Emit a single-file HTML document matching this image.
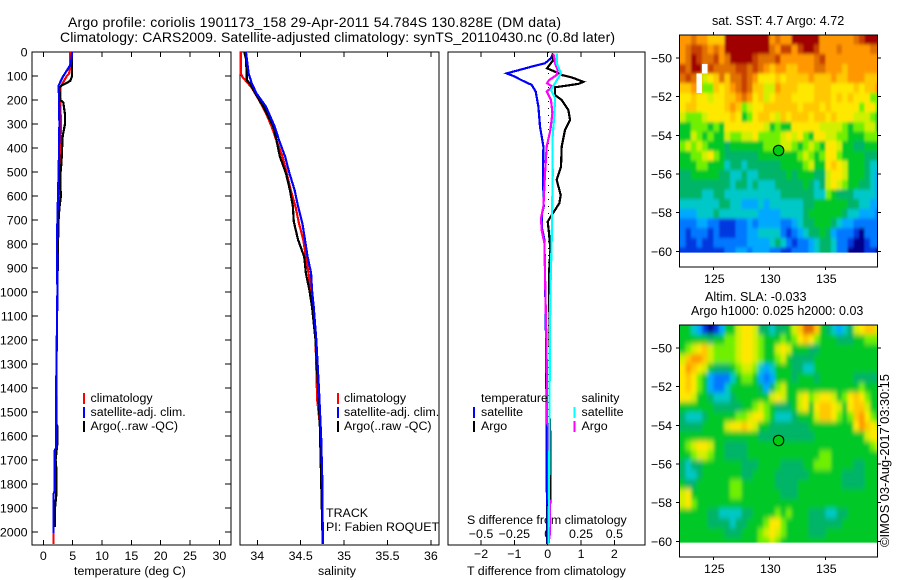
<!DOCTYPE html>
<html>
<head>
<meta charset="utf-8">
<title>Argo profile</title>
<style>
html,body{margin:0;padding:0;background:#fff;}
svg{display:block;}
text{font-family:"Liberation Sans",sans-serif;font-size:12.42px;fill:#000;}
</style>
</head>
<body>
<svg id="chart" width="900" height="580" viewBox="0 0 900 580" xmlns="http://www.w3.org/2000/svg">
<defs>
<filter id="sst-smooth" filterUnits="userSpaceOnUse" x="650" y="10" width="250" height="280"><feGaussianBlur stdDeviation="1 1.6"/></filter>
<filter id="sla-smooth" filterUnits="userSpaceOnUse" x="650" y="300" width="250" height="280"><feGaussianBlur stdDeviation="1.6 2.6"/></filter>
</defs>
<text x="68" y="27" style="font-size:14px" textLength="493">Argo profile: coriolis 1901173_158 29-Apr-2011 54.784S 130.828E (DM data)</text>
<text x="60" y="42" style="font-size:14px" textLength="555">Climatology: CARS2009. Satellite-adjusted climatology: synTS_20110430.nc (0.8d later)</text>

<text x="74" y="575">temperature (deg C)</text>
<text x="318" y="575">salinity</text>
<text x="467" y="575">T difference from climatology</text>
<text x="467" y="524">S difference from climatology</text>

<text x="326" y="517">TRACK</text>
<text x="326" y="531">PI: Fabien ROQUET</text>

<text x="712" y="25" style="font-size:12.6px">sat. SST: 4.7 Argo: 4.72</text>
<text x="705" y="301" style="font-size:12.6px">Altim. SLA: -0.033</text>
<text x="691" y="315" style="font-size:12.5px">Argo h1000: 0.025 h2000: 0.03</text>
<text transform="translate(889,547) rotate(-90)" style="font-size:13px" textLength="173">©IMOS 03-Aug-2017 03:30:15</text>
</svg>
<script>
// ---------- axis tick values ----------
const depthTicks = [0,100,200,300,400,500,600,700,800,900,1000,1100,1200,1300,1400,1500,1600,1700,1800,1900,2000];
const tempTicks = [0,5,10,15,20,25,30];
const salTicks = [34,34.5,35,35.5,36];
const tDiffTicks = [-2,-1,0,1,2];
const sDiffTicks = [-0.5,-0.25,0,0.25,0.5];
const lonTicks = [125,130,135];
const latTicks = [-50,-52,-54,-56,-58,-60];
const argoLon = 130.828;
const argoLat = -54.784;

// ---------- temperature profiles ----------
const climTempDepth = [0,60,90,100,130,145,200,300,400,500,600,800,1000,1400,1650,1660,1830,1840,2050];
const climTemp = [4.6,4.6,4.4,4.0,3.3,2.95,2.9,3.0,2.9,2.8,2.7,2.5,2.4,2.2,2.15,1.95,1.95,1.75,1.75];
const satTempDepth = [0,50,70,100,140,200,300,400,500,600,700,800,1000,1400,1650,1660,1830,1840,2005];
const satTemp = [4.9,4.7,4.2,3.4,2.6,2.7,2.75,2.7,2.6,2.5,2.4,2.35,2.4,2.2,2.15,1.95,1.95,1.75,1.75];
const argoTempDepth = [0,100,120,130,140,150,200,210,260,300,350,400,460,500,550,600,650,700,800,1000,1400,1550,1560,1630,1700,1730,1850,1900,1980];
const argoTemp = [4.9,4.9,4.6,3.9,3.1,2.75,2.9,3.4,3.7,3.7,3.3,3.2,3.1,2.95,2.9,3.0,2.75,2.6,2.5,2.4,2.2,2.2,2.4,2.4,2.1,2.2,2.2,2.0,1.95];

// ---------- salinity profiles ----------
const climSalDepth = [0,89,104,146,200,255,311,367,436,505,575,644,714,783,853,922,992,1061,1200,1450,1550,2050];
const climSal = [33.81,33.81,33.83,33.93,34.02,34.10,34.165,34.22,34.29,34.34,34.385,34.44,34.48,34.53,34.56,34.59,34.62,34.64,34.67,34.69,34.72,34.755];
const satSalDepth = [0,89,130,172,228,311,367,436,505,575,644,714,783,853,922,992,1061,1200,1400,1600,1800,2050];
const satSal = [33.87,33.90,33.935,33.99,34.10,34.20,34.25,34.32,34.37,34.43,34.47,34.52,34.55,34.58,34.62,34.63,34.65,34.68,34.71,34.735,34.75,34.755];
const argoSalDepth = [0,28,118,132,180,228,311,367,436,505,575,644,707,783,853,922,992,1061,1200,1400,1550,2000];
const argoSal = [33.85,33.87,33.88,33.916,33.99,34.07,34.185,34.22,34.26,34.33,34.375,34.41,34.42,34.47,34.54,34.56,34.60,34.63,34.67,34.70,34.72,34.75];

// ---------- difference profiles ----------
const satTDiffDepth = [6,26,47,61,89,100,119,137,165,228,311,394,506,644,679,728,783,922,1200,1600,2050];
const satTDiff = [0.17,0.10,-0.08,-0.48,-1.23,-1.03,-0.76,-0.48,-0.36,-0.28,-0.23,-0.13,-0.14,-0.12,-0.18,-0.18,-0.10,-0.08,-0.05,-0.03,-0.02];
const argoTDiffDepth = [6,33,68,85,96,106,124,133,147,179,200,242,283,325,394,478,533,596,630,679,707,755,825,922,1100,1500,1582,1880,1890,2050];
const argoTDiff = [0.15,0.17,-0.02,0.27,0.42,0.72,1.07,0.92,0.22,0.22,0.42,0.62,0.67,0.52,0.42,0.40,0.27,0.39,0.35,0.12,0,0.04,0.08,0.04,0.05,0.05,0.075,0.075,0,0];
const satSDiffDepth = [6,47,89,130,158,193,255,367,506,783,992,1300,1500,1700,2050];
const satSDiff = [0.0675,0.0675,0.10,0.055,0.025,0.055,0.05,0.035,0.0375,0.03,0.02,0.015,0.014,0.012,0.006];
const argoSDiffDepth = [6,47,75,96,117,130,144,165,200,255,325,394,506,644,693,742,797,922,1200,1350,1546,1560,1860,1870,2000,2050];
const argoSDiff = [0.0425,0.055,0.075,0.0675,0.01,-0.005,0.035,-0.0075,0.025,0.035,0.02,-0.0075,-0.02,-0.0325,-0.05,-0.045,-0.025,-0.02,-0.01,-0.006,-0.006,0.006,0.006,0.018,0.018,0.006];

// ---------- gridded maps: one character per 0.5 degree cell, "." = missing ----------
const colourLevels = "0123456789abcde";
const colourValues = ["#00008c","#0038e0","#0078ff","#00a8ff","#00c8c8","#00b468","#00c828","#70f000","#d0f000","#ffe800","#ffc800","#ff9800","#e07000","#c84000","#a00000"];
const sstRows = [
"bbcbbaaaeeeeeeeebcbbeeeeebbbbbbcdeee",
"bcddcbcbeeeeeeeecbddbdeedbbbcbbbbbcc",
"bcedccdbceeeedcccdbbbbbbcdbbbbbbbbbb",
"dcee.dccccddcdcbabbaabbbccbbbabbbbbb",
"cdc.89acaccdcb999a9aaaabaaabaabbbaaa",
"aab.77a9abcdcaa88baaa999aaa9999a9aab",
"99a99899aabcb9a89aaa9999aaa9a9a99977",
"9aa99999aba7899aaaaaa9aaa9a999997997",
"877789999a9679aa98a9aaa9aa9a99988876",
"6677767699999998"+"67669999988887677886",
"66876766"+"87788977"+"77898976998877666777",
"78787666"+"56666667"+"77887678769986655666",
"66778976"+"55555566"+"66666787679976666555",
"66677666"+"45545555"+"55666678669a98666544",
"55666665"+"54454455"+"55565666558998666543",
"55555555"+"54554544"+"4555556545"+"8987665543",
"55554455"+"44444444"+"4455555544"+"7655544443",
"44444445"+"54433343"+"4444445566"+"6666554433",
"33344454"+"44444433"+"3344445666"+"6665443332",
"22233221"+"11223233"+"3322345566"+"6543322222",
"21222121"+"11223344"+"4421234556"+"5322210222",
"21121122"+"22223333"+"4542122345"+"5422100122",
"11111111"+"22332333"+"2211222345"+"5422000110"
];
const slaRows = [
"6643101366"+"8998"+"55455"+"6"+"8acca"+"6"+"54345"+"89aa8",
"6666656677"+"8998"+"766676"+"79a97"+"66655566777",
"6789a87777"+"8998"+"766898"+"66655"+"66666666666",
"8abba87777"+"8998"+"766786"+"55556"+"66666666666",
"9ba9865556"+"7887"+"434666"+"55446"+"66666666666",
"9a97632224"+"6776"+"323666"+"56665"+"66666655555",
"9a97632246"+"6666"+"535786"+"66666"+"66666667666",
"9986654445"+"666666"+"8986"+"68978998"+"67"+"9a97"+"66",
"6666665555"+"5667"+"87"+"6555"+"68969aa986"+"9aa866",
"54445"+"66666"+"77899"+"7"+"6444"+"5666"+"8aa976"+"7ab976",
"55556"+"666"+"899a98"+"66"+"5555555"+"6"+"666666"+"69ba98",
"6666666666"+"6666555555"+"5555666666666899",
"6789986655"+"5566666666"+"6666666666666678",
"6678876655"+"5566666666"+"6666677666666666",
"5455666666"+"6555666655"+"5566777666655666",
"5445666666"+"6556666555"+"5556666665555666",
"6556666667"+"7666666555"+"5666666665555666",
"8966666667"+"7666666655"+"5666666666666666",
"8976666666"+"6666666666"+"6666666666666666",
"6666655444"+"4556666767"+"6665554455666666",
"6666655554"+"5566679976"+"6665555556666666",
"6666666655"+"5666789876"+"6665556666666666",
"6666666666"+"6666778766"+"6666666666666666"
];

// ---------- helpers ----------
const svg = document.getElementById('chart');
const NS = 'http://www.w3.org/2000/svg';
function add(parent, tag, attrs){
  const el = document.createElementNS(NS, tag);
  for (const k in attrs) el.setAttribute(k, attrs[k]);
  parent.appendChild(el);
  return el;
}
function label(parent, txt, x, y, anchor){
  const t = add(parent, 'text', {x:x, y:y, 'text-anchor':anchor||'start'});
  t.textContent = txt;
  
  
  return t;
}
function fmt(v){ return String(v).replace('-', '\u2212'); }

// axis functions
const depthY = d => 52 + 0.24 * d;
const tempX = v => 43.3 + 5.87 * v;
const salX = v => 257.3 + 86.8 * (v - 34);
const tDiffX = v => 547.7 + 33.33 * v;
const sDiffX = v => 547.7 + 133.3 * v;
const lonX = v => 713.3 + 11.2 * (v - 125);
const sstLatY = v => 58 + 19.33 * (-50 - v);
const slaLatY = v => 348 + 19.33 * (-50 - v);

function frame(name, l, t, r, b){
  const g = add(svg, 'g', {});
  
  
  const box = add(g, 'rect', {x:l, y:t, width:r-l, height:b-t, fill:'none', stroke:'#000', 'stroke-width':1.2, 'shape-rendering':'crispEdges'});
  
  
  return g;
}
function tick(g, x1, y1, x2, y2){
  const l = add(g, 'line', {x1:x1, y1:y1, x2:x2, y2:y2, stroke:'#000', 'stroke-width':1, 'shape-rendering':'crispEdges'});
  
  
}
function xTicks(g, vals, fx, t, b){
  vals.forEach(v => {
    const x = fx(v);
    tick(g, x, t, x, t + 5);
    tick(g, x, b, x, b - 5);
  });
}
function profile(g, name, xs, ds, fx, colour){
  const pts = ds.map((d, i) => fx(xs[i]).toFixed(1) + ',' + depthY(d).toFixed(1)).join(' ');
  const p = add(g, 'polyline', {points:pts, fill:'none', stroke:colour, 'stroke-width':2.2, 'shape-rendering':'crispEdges'});
  
  
}
function legendItem(g, name, x, y1, y2, colour){
  const r = add(g, 'rect', {x:x, y:y1, width:2, height:y2-y1, fill:colour});
  
  
}
function legendText(g, txt, x, y){
  const t = add(g, 'text', {x:x, y:y});
  t.textContent = txt;
  
  
}
function threeLegend(g, mx, tx){
  legendItem(g, 'legend-climatology-key', mx, 393, 404, '#f00');
  legendItem(g, 'legend-satellite-key', mx, 407, 418, '#00f');
  legendItem(g, 'legend-argo-key', mx, 421, 432, '#000');
  legendText(g, 'climatology', tx, 402);
  legendText(g, 'satellite-adj. clim.', tx, 416);
  legendText(g, 'Argo(..raw -QC)', tx, 430);
}

const PT = 52, PB = 545;

// ---------- temperature panel ----------
const p1 = frame('temperature-panel', 32, PT, 231, PB);
xTicks(p1, tempTicks, tempX, PT, PB);
tempTicks.forEach(v => label(p1, fmt(v), tempX(v), 560, 'middle'));
depthTicks.forEach(d => {
  const y = depthY(d);
  tick(p1, 32, y, 38, y);
  tick(p1, 231, y, 225, y);
  label(p1, d, 27.5, y + 4.5, 'end');
});
profile(p1, 'climatology-temperature-line', climTemp, climTempDepth, tempX, '#f00');
profile(p1, 'argo-temperature-line', argoTemp, argoTempDepth, tempX, '#000');
profile(p1, 'satellite-temperature-line', satTemp, satTempDepth, tempX, '#00f');
threeLegend(p1, 83, 90.5);

// ---------- salinity panel ----------
const p2 = frame('salinity-panel', 240, PT, 439, PB);
xTicks(p2, salTicks, salX, PT, PB);
salTicks.forEach(v => label(p2, fmt(v), salX(v), 560, 'middle'));
profile(p2, 'climatology-salinity-line', climSal, climSalDepth, salX, '#f00');
profile(p2, 'argo-salinity-line', argoSal, argoSalDepth, salX, '#000');
profile(p2, 'satellite-salinity-line', satSal, satSalDepth, salX, '#00f');
threeLegend(p2, 337, 344);

// ---------- difference panel ----------
const p3 = frame('difference-panel', 448, PT, 645, PB);
xTicks(p3, tDiffTicks, tDiffX, PT, PB);
tDiffTicks.forEach(v => label(p3, fmt(v), tDiffX(v), 558, 'middle'));
sDiffTicks.forEach(v => label(p3, fmt(v), sDiffX(v), 538, 'middle'));
const zero = add(p3, 'line', {x1:tDiffX(0)+1, y1:PT, x2:tDiffX(0)+1, y2:PB, stroke:'#000', 'stroke-width':1, 'stroke-dasharray':'1 6', 'shape-rendering':'crispEdges'});


profile(p3, 'satellite-temperature-difference-line', satTDiff, satTDiffDepth, tDiffX, '#00f');
profile(p3, 'argo-temperature-difference-line', argoTDiff, argoTDiffDepth, tDiffX, '#000');
profile(p3, 'argo-salinity-difference-line', argoSDiff, argoSDiffDepth, sDiffX, '#f0f');
profile(p3, 'satellite-salinity-difference-line', satSDiff, satSDiffDepth, sDiffX, '#0ff');
legendText(p3, 'temperature', 481, 402);
legendText(p3, 'satellite', 481, 416);
legendText(p3, 'Argo', 481, 430);
legendText(p3, 'salinity', 581.5, 402);
legendText(p3, 'satellite', 581.5, 416);
legendText(p3, 'Argo', 581.5, 430);
legendItem(p3, 'legend-t-satellite-key', 473, 407, 418, '#00f');
legendItem(p3, 'legend-t-argo-key', 473, 421, 432, '#000');
legendItem(p3, 'legend-s-satellite-key', 573.5, 407, 418, '#0ff');
legendItem(p3, 'legend-s-argo-key', 573.5, 421, 432, '#f0f');

// ---------- maps ----------
function drawMap(name, rows, latY, top, bottom, filterId){
  const g = add(svg, 'g', {});
  
  
  const dataBottom = latY(-60.07);
  const clipId = name + '-clip';
  const clip = add(svg.querySelector('defs'), 'clipPath', {id:clipId});
  add(clip, 'rect', {x:679.5, y:top, width:198, height:dataBottom-top});
  const clipped = add(g, 'g', {'clip-path':'url(#' + clipId + ')'});
  const field = add(clipped, 'g', {filter:'url(#' + filterId + ')'});
  const holes = [];
  rows.forEach((row, r) => {
    const latTop = -48.8 - 0.5 * r;
    let y1 = latY(latTop);
    let y2 = latY(latTop - 0.5);
    if (r === 0) y1 -= 12;
    if (r === rows.length - 1) y2 += 12;
    for (let c = 0; c < 36; c++) {
      let ch = row[c];
      let x1 = lonX(122 + 0.5 * c);
      let x2 = lonX(122 + 0.5 * (c + 1));
      if (ch === '.') {
        holes.push([x1, y1, x2 - x1, y2 - y1]);
        ch = 'b';
      }
      if (c === 0) x1 -= 12;
      if (c === 35) x2 += 12;
      const cell = add(field, 'rect', {x:x1.toFixed(1), y:y1.toFixed(1), width:(x2-x1+0.5).toFixed(1), height:(y2-y1+0.5).toFixed(1), fill:colourValues[colourLevels.indexOf(ch)], 'shape-rendering':'crispEdges'});
      
      
    }
  });
  holes.forEach(h => {
    const w = add(clipped, 'rect', {x:h[0].toFixed(1), y:h[1].toFixed(1), width:h[2].toFixed(1), height:h[3].toFixed(1), fill:'#fff', 'shape-rendering':'crispEdges'});
    
    
  });
  const box = add(g, 'rect', {x:679.5, y:top, width:198, height:bottom-top, fill:'none', stroke:'#000', 'stroke-width':1.2, 'shape-rendering':'crispEdges'});
  
  
  lonTicks.forEach(v => {
    const x = lonX(v);
    tick(g, x, top, x, top - 3);
    tick(g, x, bottom, x, bottom + 3);
    label(g, v, x + 1, bottom + 16, 'middle');
  });
  latTicks.forEach(v => {
    const y = latY(v);
    tick(g, 679.5, y, 676, y);
    tick(g, 877.5, y, 881, y);
    label(g, fmt(v), 672, y + 4.5, 'end');
  });
  const c = add(g, 'circle', {cx:lonX(argoLon), cy:latY(argoLat), r:5.2, fill:'#00cc10', stroke:'#000', 'stroke-width':1.1});
  
  
}
drawMap('sst-map', sstRows, sstLatY, 35, 267, 'sst-smooth');
drawMap('sla-map', slaRows, slaLatY, 325, 557, 'sla-smooth');
</script>
</body>
</html>
